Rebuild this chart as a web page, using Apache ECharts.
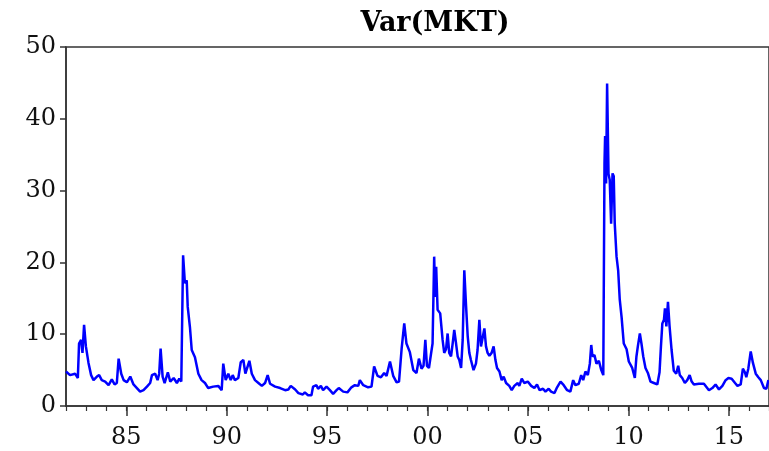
<!DOCTYPE html>
<html>
<head>
<meta charset="utf-8">
<script src="https://cdn.jsdelivr.net/npm/echarts@6/dist/echarts.min.js"></script>
<style>html,body{margin:0;padding:0;background:#fff}#c{width:769px;height:451px}</style>
</head>
<body>
<div id="c"></div>
<script>
const title = 'Var(MKT)';
const yTicks = [0, 10, 20, 30, 40, 50];
const xMajorTicks = [1985, 1990, 1995, 2000, 2005, 2010, 2015];
const xTickLabels = ['85', '90', '95', '00', '05', '10', '15'];
const years = [
1982.00,1982.09,1982.20,1982.29,1982.45,1982.59,1982.65,1982.75,1982.82,1982.90,1982.99,
1983.12,1983.25,1983.37,1983.54,1983.65,1983.78,1983.95,
1984.12,1984.28,1984.42,1984.53,1984.62,1984.75,1984.87,
1985.03,1985.20,1985.36,1985.53,1985.69,1985.86,
1986.03,1986.19,1986.28,1986.44,1986.56,1986.64,1986.71,1986.81,1986.91,
1987.07,1987.19,1987.36,1987.52,1987.64,1987.74,1987.80,1987.83,1987.92,
1988.01,1988.06,1988.17,1988.26,1988.42,1988.59,1988.75,1988.92,
1989.08,1989.33,1989.58,1989.75,1989.83,1989.95,
1990.08,1990.20,1990.30,1990.41,1990.58,1990.70,1990.83,1990.93,
1991.00,1991.13,1991.25,1991.41,1991.58,1991.75,1991.91,
1992.04,1992.16,1992.41,1992.66,1992.91,
1993.07,1993.19,1993.41,1993.57,1993.79,1993.89,
1994.05,1994.22,1994.30,1994.47,1994.55,1994.69,1994.80,1994.97,
1995.14,1995.30,1995.47,1995.58,1995.80,
1996.01,1996.21,1996.38,1996.55,1996.63,1996.80,
1997.04,1997.21,1997.34,1997.51,1997.68,1997.84,1997.96,
1998.13,1998.29,1998.46,1998.58,1998.71,1998.84,1998.95,
1999.12,1999.29,1999.45,1999.57,1999.70,1999.80,1999.89,1999.97,
2000.07,2000.17,2000.25,2000.33,2000.38,2000.43,2000.50,2000.63,2000.75,2000.83,2000.92,
2001.00,2001.08,2001.17,2001.25,2001.33,2001.42,2001.50,2001.58,2001.67,2001.75,2001.83,2001.92,
2002.00,2002.08,2002.16,2002.29,2002.41,2002.49,2002.58,2002.66,2002.83,2002.91,2002.99,
2003.08,2003.19,2003.29,2003.38,2003.46,2003.58,2003.69,2003.79,2003.91,
2004.07,2004.19,2004.32,2004.49,2004.57,2004.69,2004.82,2004.99,
2005.16,2005.32,2005.45,2005.58,2005.75,2005.87,
2006.03,2006.15,2006.32,2006.45,2006.62,2006.78,2006.95,
2007.11,2007.25,2007.36,2007.53,2007.65,2007.75,2007.86,2007.98,
2008.08,2008.15,2008.21,2008.31,2008.41,2008.53,2008.65,2008.75,2008.81,2008.84,2008.89,2008.94,
2009.01,2009.07,2009.14,2009.21,2009.27,2009.32,2009.41,2009.49,2009.57,2009.66,2009.77,2009.91,
2010.02,2010.19,2010.32,2010.40,2010.47,2010.57,2010.65,2010.74,2010.85,2010.97,
2011.10,2011.27,2011.44,2011.55,2011.62,2011.69,2011.77,2011.82,2011.89,2011.97,
2012.05,2012.15,2012.26,2012.38,2012.48,2012.56,2012.68,2012.81,2012.93,
2013.05,2013.15,2013.26,2013.51,2013.76,
2014.01,2014.18,2014.34,2014.51,2014.68,2014.84,2014.98,
2015.14,2015.31,2015.43,2015.59,2015.70,2015.80,2015.87,2015.97,
2016.09,2016.20,2016.34,2016.47,2016.59,2016.75,2016.87,2016.97
];
const varMkt = [
4.8,4.6,4.3,4.4,4.5,3.9,8.7,9.2,7.4,11.3,8.3,
6.0,4.3,3.6,4.1,4.3,3.6,3.4,
2.9,3.7,3.0,3.2,6.6,4.5,3.6,
3.3,4.1,3.0,2.5,2.0,2.2,
2.7,3.2,4.3,4.5,3.6,4.5,8.0,4.1,3.2,
4.7,3.4,3.9,3.2,3.8,3.4,3.6,21.0,17.1,
17.5,13.8,11.0,7.8,6.8,4.5,3.6,3.2,
2.5,2.7,2.8,2.2,5.9,3.6,
4.5,3.6,4.3,3.6,3.9,6.1,6.4,4.5,
4.3,6.3,4.5,3.6,3.2,2.8,3.2,
4.3,3.1,2.7,2.5,2.2,
2.3,2.8,2.3,1.8,1.6,1.9,
1.5,1.5,2.7,2.9,2.4,2.8,2.2,2.7,
2.2,1.7,2.2,2.5,2.0,
1.9,2.6,2.9,2.8,3.6,2.9,
2.6,2.7,5.5,4.2,4.0,4.6,4.2,
6.2,4.2,3.3,3.4,8.0,11.5,8.7,
7.5,5.0,4.6,6.6,5.2,5.6,9.2,5.6,
5.3,7.2,8.7,20.8,15.2,19.4,13.4,12.9,9.2,7.4,7.9,
10.1,7.4,6.9,8.7,10.6,8.7,6.9,6.4,5.3,9.2,18.9,13.8,
9.7,7.4,6.4,5.0,5.9,7.8,12.0,8.3,10.8,8.3,7.4,
7.0,7.4,8.3,6.4,5.3,4.8,3.6,4.1,3.2,
2.8,2.2,2.8,3.2,2.8,3.8,3.2,3.4,
2.8,2.5,3.0,2.2,2.4,2.0,
2.4,2.0,1.8,2.6,3.4,2.9,2.2,
2.0,3.6,2.9,3.1,4.3,3.6,4.8,4.3,
5.9,8.5,6.9,7.1,5.9,6.3,5.0,4.3,33.8,37.6,31.0,44.9,
32.3,31.5,25.4,32.4,32.0,25.4,20.8,18.9,14.8,12.4,8.7,7.9,
6.2,5.3,3.9,6.9,8.3,10.1,8.7,6.9,5.3,4.6,
3.4,3.2,3.0,4.7,8.3,11.5,12.0,13.6,11.1,14.5,
11.1,7.8,4.9,4.5,5.6,4.3,3.9,3.2,3.6,
4.3,3.4,3.0,3.1,3.1,
2.2,2.5,3.0,2.3,2.8,3.6,3.9,
3.8,3.2,2.8,3.0,5.2,4.7,4.0,5.2,
7.6,6.0,4.5,4.0,3.6,2.5,2.4,3.6
];

const chart = echarts.init(document.getElementById('c'), null, {renderer: 'canvas'});
const fontFam = '"DejaVu Serif", "Liberation Serif", serif';
const axisCol = '#333333';
chart.setOption({
  animation: false,
  backgroundColor: '#ffffff',
  title: {
    text: title, left: 430, top: 5, textAlign: 'center',
    textStyle: {fontFamily: fontFam, fontWeight: 'bold', fontSize: 27, color: '#000'}
  },
  grid: {left: 66, top: 47, bottom: 45, right: 0, show: true, borderColor: axisCol, borderWidth: 1.5, backgroundColor: 'transparent'},
  xAxis: [{
    type: 'value', min: 1982, max: 2017,
    axisLine: {show: true, lineStyle: {color: axisCol, width: 1.5}},
    axisTick: {show: true, customValues: xMajorTicks, length: 10, lineStyle: {color: axisCol, width: 1.5}},
    axisLabel: {
      customValues: xMajorTicks, margin: 20,
      fontFamily: fontFam, fontSize: 24, color: '#111',
      formatter: v => xTickLabels[xMajorTicks.indexOf(Math.round(v))] || ''
    },
    splitLine: {show: false}
  }, {
    type: 'value', min: 1982, max: 2017, interval: 1, position: 'bottom',
    axisLine: {show: false},
    axisTick: {show: true, length: 5, lineStyle: {color: axisCol, width: 1.2}},
    axisLabel: {show: false},
    splitLine: {show: false}
  }],
  yAxis: {
    type: 'value', min: 0, max: 50, interval: 10,
    axisLine: {show: true, lineStyle: {color: axisCol, width: 1.5}},
    axisTick: {show: true, length: 6, lineStyle: {color: axisCol, width: 1.5}},
    axisLabel: {fontFamily: fontFam, fontSize: 24, color: '#111', margin: 10,
      formatter: v => yTicks.includes(v) ? String(v) : ''},
    splitLine: {show: false}
  },
  series: [{
    type: 'line',
    xAxisIndex: 0,
    data: years.map((y, i) => [y, varMkt[i]]),
    showSymbol: false,
    lineStyle: {color: '#0000ff', width: 2.5},
    itemStyle: {color: '#0000ff'}
  }]
});
</script>
</body>
</html>
